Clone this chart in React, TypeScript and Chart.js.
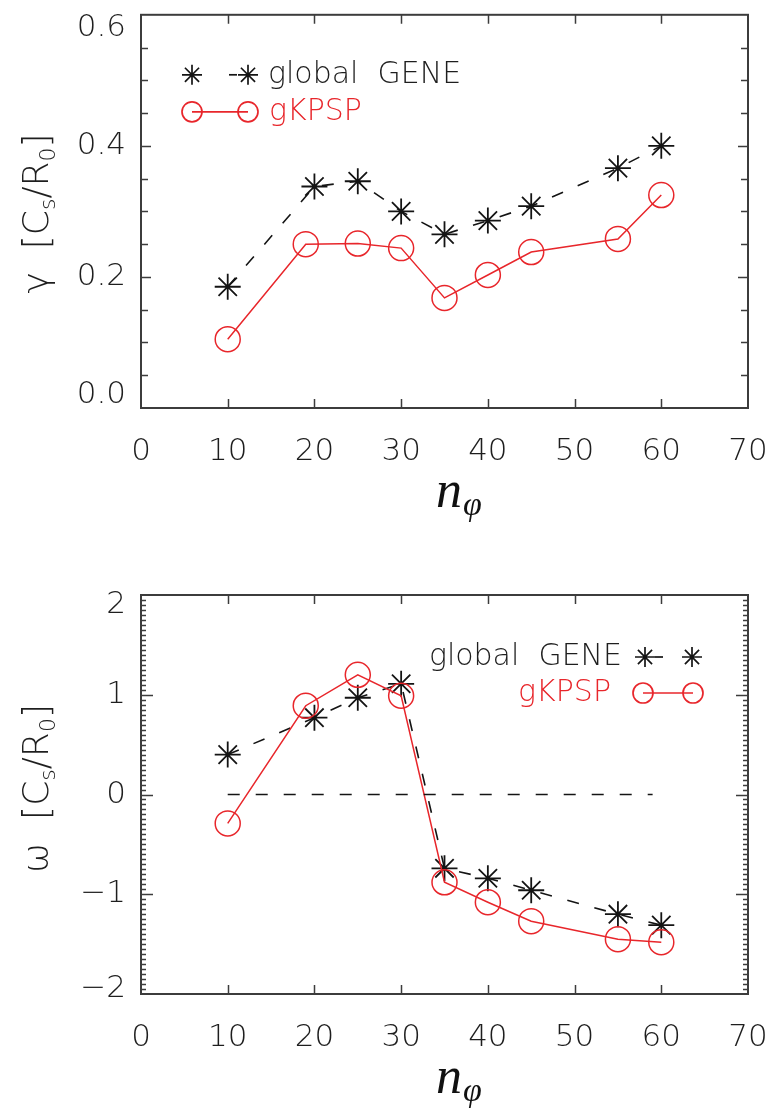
import React, { useEffect, useRef } from 'react';
import { Chart, registerables } from 'chart.js';

Chart.register(...registerables);

// ---------- data ----------
const nPhiGene = [10, 20, 25, 30, 35, 40, 45, 55, 60];
const gammaGene = [0.185, 0.338, 0.346, 0.300, 0.265, 0.286, 0.308, 0.366, 0.400];
const omegaGene = [0.40, 0.77, 0.97, 1.11, -0.74, -0.84, -0.96, -1.20, -1.31];

const nPhiKpsp = [10, 19, 25, 30, 35, 40, 45, 55, 60];
const gammaKpsp = [0.105, 0.250, 0.251, 0.244, 0.168, 0.203, 0.238, 0.258, 0.325];
const omegaKpsp = [-0.29, 0.89, 1.20, 0.99, -0.88, -1.08, -1.27, -1.45, -1.48];

const zeroLineX = [10, 59];
const zeroLineY = [0, 0];

const xTickLabels = ['0', '10', '20', '30', '40', '50', '60', '70'];
const gammaTickLabels = ['0.0', '0.2', '0.4', '0.6'];
const omegaTickLabels = ['\u22122', '\u22121', '0', '1', '2'];
const xMajorTickValues = [10, 20, 30, 40, 50, 60];

const legendGene = 'global  GENE';
const legendKpsp = 'gKPSP';

// ---------- styles ----------
const RED = '#e8262b';
const BLACK = '#141414';
const TEXT = '#1e1e1e';
const FRAME = '#3c3c3c';
const TICK_FONT = '"DejaVu Sans"';
const TICK_WEIGHT = '200';
const TICK_SIZE = 31;

const toPts = (xs: number[], ys: number[]) => xs.map((x, i) => ({ x, y: ys[i] }));

function drawStar(ctx: CanvasRenderingContext2D, x: number, y: number, r: number) {
  ctx.beginPath();
  for (let k = 0; k < 4; k++) {
    const a = (k * Math.PI) / 4;
    ctx.moveTo(x - r * Math.cos(a), y - r * Math.sin(a));
    ctx.lineTo(x + r * Math.cos(a), y + r * Math.sin(a));
  }
  ctx.stroke();
}

function drawCircle(ctx: CanvasRenderingContext2D, x: number, y: number, r: number) {
  ctx.beginPath();
  ctx.arc(x, y, r, 0, Math.PI * 2);
  ctx.stroke();
}

type DecorCfg = {
  yMin: number;
  yMax: number;
  yMinorStep: number;
  yMajorStep: number;
  yMinorLen: number;
  yMajorLen: number;
  xTickLen: number;
  ySymbol: string;
  yTitleCenterOffset: number;
  legend: 'left' | 'right';
};

function makeDecor(cfg: DecorCfg) {
  return {
    id: 'decor',
    beforeDatasetsDraw(chart: any) {
      const { ctx, chartArea } = chart;
      const { left, right, top, bottom } = chartArea;
      const xs = chart.scales.x;
      const ys = chart.scales.y;
      ctx.save();
      ctx.strokeStyle = FRAME;
      ctx.lineWidth = 2;
      ctx.strokeRect(left, top, right - left, bottom - top);
      ctx.lineWidth = 1.5;
      ctx.beginPath();
      for (const v of xMajorTickValues) {
        const px = Math.round(xs.getPixelForValue(v)) + 0.5;
        ctx.moveTo(px, bottom);
        ctx.lineTo(px, bottom - cfg.xTickLen);
        ctx.moveTo(px, top);
        ctx.lineTo(px, top + cfg.xTickLen);
      }
      const n = Math.round((cfg.yMax - cfg.yMin) / cfg.yMinorStep);
      for (let i = 1; i < n; i++) {
        const v = cfg.yMin + i * cfg.yMinorStep;
        const q = v / cfg.yMajorStep;
        const major = Math.abs(q - Math.round(q)) < 1e-6;
        const len = major ? cfg.yMajorLen : cfg.yMinorLen;
        const py = Math.round(ys.getPixelForValue(v)) + 0.5;
        ctx.moveTo(left, py);
        ctx.lineTo(left + len, py);
        ctx.moveTo(right, py);
        ctx.lineTo(right - len, py);
      }
      ctx.stroke();
      ctx.restore();
    },
    afterDraw(chart: any) {
      const { ctx, chartArea } = chart;
      const { left, top, bottom } = chartArea;
      ctx.save();

      // legend
      ctx.font = `${TICK_WEIGHT} 30px ${TICK_FONT}`;
      ctx.textBaseline = 'middle';
      ctx.lineWidth = 1.7;
      if (cfg.legend === 'left') {
        const y1 = top + 60;
        const y2 = top + 97;
        ctx.strokeStyle = BLACK;
        drawStar(ctx, left + 51, y1, 10);
        drawStar(ctx, left + 107, y1, 10);
        ctx.beginPath();
        ctx.moveTo(left + 88, y1);
        ctx.lineTo(left + 96, y1);
        ctx.stroke();
        ctx.fillStyle = TEXT;
        ctx.textAlign = 'left';
        ctx.fillText(legendGene, left + 127, y1);
        ctx.strokeStyle = RED;
        ctx.beginPath();
        ctx.moveTo(left + 51, y2);
        ctx.lineTo(left + 107, y2);
        ctx.stroke();
        drawCircle(ctx, left + 51, y2, 10);
        drawCircle(ctx, left + 107, y2, 10);
        ctx.fillStyle = RED;
        ctx.fillText(legendKpsp, left + 128, y2);
      } else {
        const y1 = top + 62;
        const y2 = top + 98;
        ctx.strokeStyle = BLACK;
        drawStar(ctx, left + 504, y1, 10);
        drawStar(ctx, left + 551, y1, 10);
        ctx.beginPath();
        ctx.moveTo(left + 514, y1);
        ctx.lineTo(left + 522, y1);
        ctx.stroke();
        ctx.fillStyle = TEXT;
        ctx.textAlign = 'right';
        ctx.fillText(legendGene, left + 481, y1);
        ctx.strokeStyle = RED;
        ctx.beginPath();
        ctx.moveTo(left + 502, y2);
        ctx.lineTo(left + 552, y2);
        ctx.stroke();
        drawCircle(ctx, left + 502, y2, 10);
        drawCircle(ctx, left + 552, y2, 10);
        ctx.fillStyle = RED;
        ctx.fillText(legendKpsp, left + 470, y2);
      }

      // x title  n_phi
      ctx.fillStyle = '#111';
      ctx.textAlign = 'left';
      ctx.textBaseline = 'alphabetic';
      ctx.font = `italic 52px "Liberation Serif"`;
      const nx = left + 295;
      const ny = bottom + 99;
      ctx.fillText('n', nx, ny);
      const nw = ctx.measureText('n').width;
      ctx.font = `italic 34px "Liberation Serif"`;
      ctx.fillText('\u03C6', nx + nw + 1, ny + 8);

      // y title  sym [C_s/R_0]
      const F = 36;
      const S = 22;
      const parts: [string, boolean][] = [
        [cfg.ySymbol + '  [C', false],
        ['s', true],
        ['/R', false],
        ['0', true],
        [']', false],
      ];
      const mainFont = `${TICK_WEIGHT} ${F}px ${TICK_FONT}`;
      const subFont = `${TICK_WEIGHT} ${S}px ${TICK_FONT}`;
      let total = 0;
      for (const [t, sub] of parts) {
        ctx.font = sub ? subFont : mainFont;
        total += ctx.measureText(t).width;
      }
      ctx.translate(48, (top + bottom) / 2 + cfg.yTitleCenterOffset);
      ctx.rotate(-Math.PI / 2);
      ctx.fillStyle = TEXT;
      let cx = -total / 2;
      for (const [t, sub] of parts) {
        ctx.font = sub ? subFont : mainFont;
        ctx.fillText(t, cx, sub ? 7 : 0);
        cx += ctx.measureText(t).width;
      }
      ctx.restore();
    },
  };
}

function tickFont(lineHeights: { [k: number]: number }) {
  return (c: any) => {
    const lh = lineHeights[c.index];
    return {
      family: TICK_FONT,
      weight: TICK_WEIGHT,
      size: TICK_SIZE,
      lineHeight: lh !== undefined ? `${lh}px` : 1.2,
    };
  };
}

function buildConfig(opts: {
  geneY: number[];
  kpspY: number[];
  yMin: number;
  yMax: number;
  yStep: number;
  yLabels: string[];
  padTop: number;
  xHeight: number;
  topShift: number;
  bottomShift: number;
  zero: boolean;
  decor: DecorCfg;
}) {
  const datasets: any[] = [];
  if (opts.zero) {
    datasets.push({
      label: 'zero',
      data: toPts(zeroLineX, zeroLineY),
      borderColor: BLACK,
      borderWidth: 1.6,
      borderDash: [12, 16],
      pointRadius: 0,
      showLine: true,
      fill: false,
    });
  }
  datasets.push({
    label: 'gKPSP',
    data: toPts(nPhiKpsp, opts.kpspY),
    borderColor: RED,
    borderWidth: 1.5,
    pointStyle: 'circle',
    pointRadius: 12.5,
    pointBorderColor: RED,
    pointBorderWidth: 1.5,
    pointBackgroundColor: 'rgba(0,0,0,0)',
    showLine: true,
    fill: false,
    tension: 0,
  });
  datasets.push({
    label: 'global GENE',
    data: toPts(nPhiGene, opts.geneY),
    borderColor: BLACK,
    borderWidth: 1.6,
    borderDash: [12, 16],
    pointStyle: 'star',
    pointRadius: 13,
    pointBorderColor: BLACK,
    pointBorderWidth: 1.8,
    pointBackgroundColor: 'rgba(0,0,0,0)',
    showLine: true,
    fill: false,
    tension: 0,
  });
  const lastIdx = opts.yLabels.length - 1;
  const lh: { [k: number]: number } = {};
  lh[0] = opts.bottomShift * 2;
  lh[lastIdx] = opts.topShift * 2;
  return {
    type: 'scatter',
    data: { datasets },
    options: {
      animation: false,
      responsive: false,
      maintainAspectRatio: false,
      layout: { padding: { top: opts.padTop, right: 25, left: 0, bottom: 0 } },
      plugins: { legend: { display: false }, tooltip: { enabled: false } },
      scales: {
        x: {
          type: 'linear',
          min: 0,
          max: 70,
          grid: { display: false, drawTicks: false },
          border: { display: false },
          ticks: {
            stepSize: 10,
            autoSkip: false,
            maxRotation: 0,
            padding: 25,
            color: TEXT,
            font: { family: TICK_FONT, weight: TICK_WEIGHT, size: TICK_SIZE, lineHeight: 1.2 },
            callback: (_v: any, i: number) => xTickLabels[i],
          },
          afterFit: (s: any) => {
            s.height = opts.xHeight;
            s.paddingLeft = 0;
            s.paddingRight = 0;
          },
        },
        y: {
          type: 'linear',
          min: opts.yMin,
          max: opts.yMax,
          grid: { display: false, drawTicks: false },
          border: { display: false },
          ticks: {
            stepSize: opts.yStep,
            autoSkip: false,
            padding: 15,
            color: TEXT,
            font: tickFont(lh),
            callback: (_v: any, i: number) => {
              const t = opts.yLabels[i];
              if (i === lastIdx) return ['', t];
              if (i === 0) return [t, ''];
              return t;
            },
          },
          afterFit: (s: any) => {
            s.width = 141;
            s.paddingTop = 0;
            s.paddingBottom = 0;
          },
        },
      },
    },
    plugins: [makeDecor(opts.decor)],
  };
}

export default function App() {
  const topRef = useRef<HTMLCanvasElement>(null);
  const botRef = useRef<HTMLCanvasElement>(null);

  useEffect(() => {
    const top = new Chart(
      topRef.current as HTMLCanvasElement,
      buildConfig({
        geneY: gammaGene,
        kpspY: gammaKpsp,
        yMin: 0,
        yMax: 0.6,
        yStep: 0.2,
        yLabels: gammaTickLabels,
        padTop: 10,
        xHeight: 152,
        topShift: 13,
        bottomShift: 13,
        zero: false,
        decor: {
          yMin: 0,
          yMax: 0.6,
          yMinorStep: 0.05,
          yMajorStep: 0.2,
          yMinorLen: 7,
          yMajorLen: 10,
          xTickLen: 9,
          ySymbol: '\u03B3',
          yTitleCenterOffset: 2,
          legend: 'left',
        },
      }) as any
    );
    const bot = new Chart(
      botRef.current as HTMLCanvasElement,
      buildConfig({
        geneY: omegaGene,
        kpspY: omegaKpsp,
        yMin: -2,
        yMax: 2,
        yStep: 1,
        yLabels: omegaTickLabels,
        padTop: 35,
        xHeight: 119,
        topShift: 10,
        bottomShift: 5,
        zero: true,
        decor: {
          yMin: -2,
          yMax: 2,
          yMinorStep: 0.05,
          yMajorStep: 1,
          yMinorLen: 5,
          yMajorLen: 12,
          xTickLen: 9,
          ySymbol: '\u03C9',
          yTitleCenterOffset: -6,
          legend: 'right',
        },
      }) as any
    );
    return () => {
      top.destroy();
      bot.destroy();
    };
  }, []);

  return (
    <div style={{ position: 'absolute', left: 0, top: 0, width: 773, height: 1113, background: '#fff' }}>
      <canvas
        ref={topRef}
        width={773}
        height={560}
        style={{ position: 'absolute', left: 0, top: 0, width: 773, height: 560 }}
      />
      <canvas
        ref={botRef}
        width={773}
        height={553}
        style={{ position: 'absolute', left: 0, top: 560, width: 773, height: 553 }}
      />
    </div>
  );
}
